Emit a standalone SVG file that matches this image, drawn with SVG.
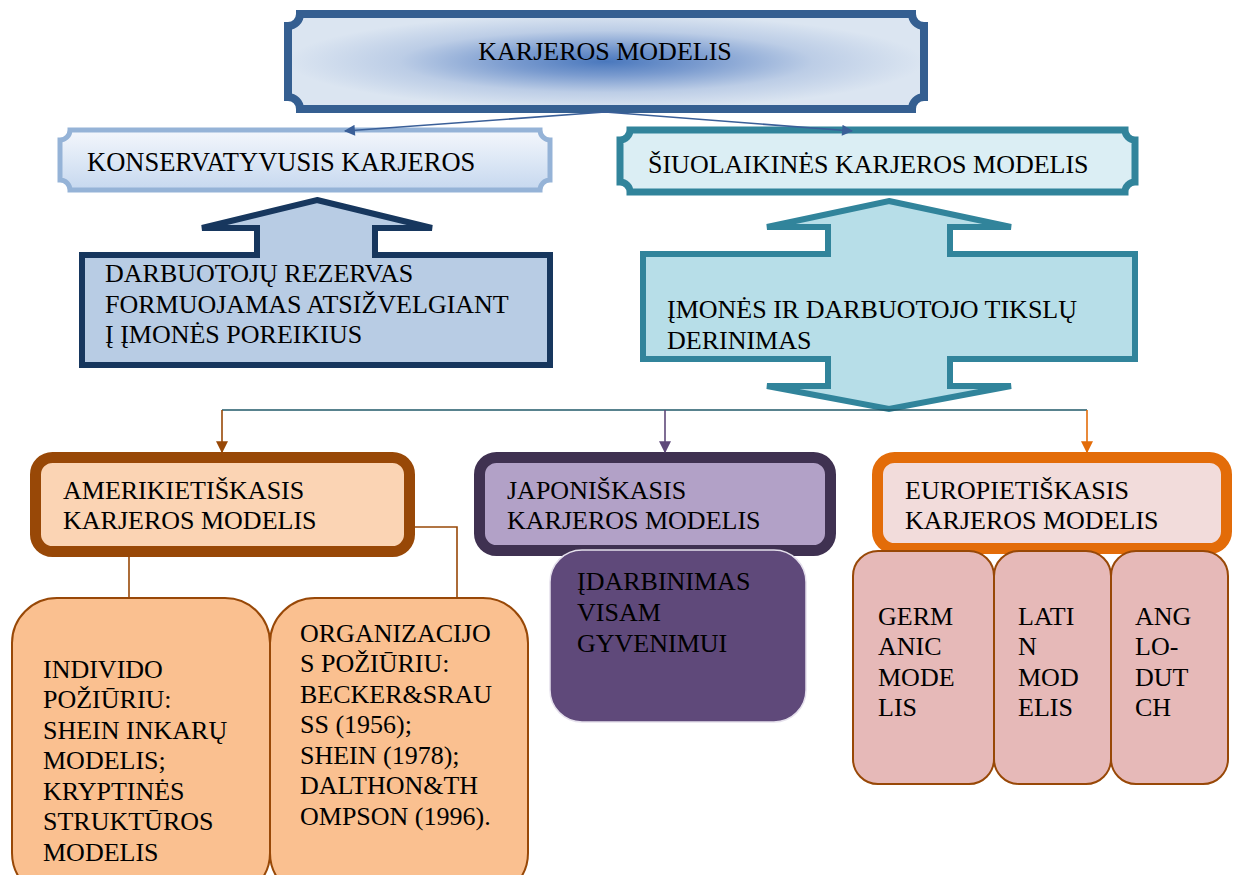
<svg xmlns="http://www.w3.org/2000/svg" width="1235" height="875" viewBox="0 0 1235 875">
  <style>
    text { font-family: 'Liberation Serif', 'Times New Roman', serif; font-size: 26px; fill: #000; }
    .conn { fill: none; stroke-width: 1.6; }
  </style>
  <defs>
    <radialGradient id="titleFill" cx="0.5" cy="0.5" r="0.5">
      <stop offset="0" stop-color="#4a78bd"/>
      <stop offset="0.3" stop-color="#7a9bcf"/>
      <stop offset="0.65" stop-color="#bccde6"/>
      <stop offset="1" stop-color="#dbe5f1"/>
    </radialGradient>
    <linearGradient id="consFill" x1="0" y1="0" x2="0" y2="1">
      <stop offset="0" stop-color="#f4f7fc"/>
      <stop offset="1" stop-color="#c6d8ef"/>
    </linearGradient>
    <marker id="arrBlue" viewBox="0 0 10 10" refX="9" refY="5" markerWidth="14" markerHeight="11" markerUnits="userSpaceOnUse" orient="auto">
      <path d="M0,0 L10,5 L0,10 Z" fill="#3a5f98"/>
    </marker>
    <marker id="arrBrown" viewBox="0 0 10 10" refX="9" refY="5" markerWidth="12" markerHeight="12" markerUnits="userSpaceOnUse" orient="auto">
      <path d="M0,0 L10,5 L0,10 Z" fill="#984807"/>
    </marker>
    <marker id="arrPurple" viewBox="0 0 10 10" refX="9" refY="5" markerWidth="12" markerHeight="12" markerUnits="userSpaceOnUse" orient="auto">
      <path d="M0,0 L10,5 L0,10 Z" fill="#5f497a"/>
    </marker>
    <marker id="arrOrange" viewBox="0 0 10 10" refX="9" refY="5" markerWidth="12" markerHeight="12" markerUnits="userSpaceOnUse" orient="auto">
      <path d="M0,0 L10,5 L0,10 Z" fill="#e36c09"/>
    </marker>
  </defs>

  <!-- title plaque -->
  <g id="title">
    <path d="M300,14 H912 A12,12 0 0 0 924,26 V97 A12,12 0 0 0 912,109 H300 A12,12 0 0 0 288,97 V26 A12,12 0 0 0 300,14 Z" fill="url(#titleFill)" stroke="#355f91" stroke-width="8"/>
    <text x="605" y="60" text-anchor="middle">KARJEROS MODELIS</text>
  </g>

  <!-- conservative career model -->
  <g id="conservative">
    <path d="M70,130 H540 A10,10 0 0 0 550,140 V180 A10,10 0 0 0 540,190 H70 A10,10 0 0 0 60,180 V140 A10,10 0 0 0 70,130 Z" fill="url(#consFill)" stroke="#95b3d7" stroke-width="5"/>
    <text x="87" y="171" style="font-size:26.5px">KONSERVATYVUSIS KARJEROS</text>
  </g>

  <!-- contemporary career model -->
  <g id="contemporary">
    <path d="M630,130 H1125 A10,10 0 0 0 1135,140 V182 A10,10 0 0 0 1125,192 H630 A10,10 0 0 0 620,182 V140 A10,10 0 0 0 630,130 Z" fill="#dbeef4" stroke="#31849b" stroke-width="7"/>
    <text x="648" y="173">ŠIUOLAIKINĖS KARJEROS MODELIS</text>
  </g>

  <!-- up arrow: employee reserve -->
  <g id="reserve">
    <path d="M317,200 L432,228 L375,228 L375,255 L550,255 L550,365 L82,365 L82,255 L257,255 L257,228 L202,228 Z" fill="#b8cce4" stroke="#17375e" stroke-width="6"/>
    <text x="105" y="282">DARBUOTOJŲ REZERVAS</text>
    <text x="105" y="313">FORMUOJAMAS ATSIŽVELGIANT</text>
    <text x="105" y="343">Į ĮMONĖS POREIKIUS</text>
  </g>

  <!-- double arrow: goal alignment -->
  <g id="alignment">
    <path d="M889,201 L1011,227 L950,227 L950,254 L1135,254 L1135,359 L950,359 L950,386 L1011,386 L889,409 L767,386 L828,386 L828,359 L643,359 L643,254 L828,254 L828,227 L767,227 Z" fill="#b7dee8" stroke="#31849b" stroke-width="6"/>
    <text x="667" y="318">ĮMONĖS IR DARBUOTOJO TIKSLŲ</text>
    <text x="667" y="349">DERINIMAS</text>
  </g>

  <!-- American model -->
  <g id="american">
    <rect x="35.5" y="457.5" width="374" height="94" rx="17" fill="#fbd4b4" stroke="#984807" stroke-width="11"/>
    <text x="63" y="499">AMERIKIETIŠKASIS</text>
    <text x="63" y="529">KARJEROS MODELIS</text>
  </g>

  <!-- Japanese model -->
  <g id="japanese">
    <rect x="479.5" y="457.5" width="351" height="93" rx="17" fill="#b2a1c7" stroke="#3f3151" stroke-width="11"/>
    <text x="507" y="499">JAPONIŠKASIS</text>
    <text x="507" y="529">KARJEROS MODELIS</text>
  </g>

  <!-- European model -->
  <g id="european">
    <rect x="877.5" y="457.5" width="349" height="91" rx="17" fill="#f2dcdb" stroke="#e36c09" stroke-width="11"/>
    <text x="905" y="499">EUROPIETIŠKASIS</text>
    <text x="905" y="529">KARJEROS MODELIS</text>
  </g>

  <!-- lifetime employment -->
  <g id="lifetime">
    <rect x="550" y="550" width="256" height="172" rx="32" fill="#5f497a" stroke="#e5e0ec" stroke-width="1.5"/>
    <text x="577" y="590">ĮDARBINIMAS</text>
    <text x="577" y="621">VISAM</text>
    <text x="577" y="652">GYVENIMUI</text>
  </g>

  <!-- individual view -->
  <g id="individual">
    <rect x="12" y="598" width="258" height="300" rx="45" fill="#fac090" stroke="#984807" stroke-width="2"/>
    <text x="43" y="678">INDIVIDO</text>
    <text x="43" y="708">POŽIŪRIU:</text>
    <text x="43" y="739">SHEIN INKARŲ</text>
    <text x="43" y="769">MODELIS;</text>
    <text x="43" y="800">KRYPTINĖS</text>
    <text x="43" y="830">STRUKTŪROS</text>
    <text x="43" y="861">MODELIS</text>
  </g>

  <!-- organisational view -->
  <g id="organisational">
    <rect x="270" y="598" width="258" height="300" rx="45" fill="#fac090" stroke="#984807" stroke-width="2"/>
    <text x="300" y="642">ORGANIZACIJO</text>
    <text x="300" y="672">S POŽIŪRIU:</text>
    <text x="300" y="703">BECKER&amp;SRAU</text>
    <text x="300" y="733">SS (1956);</text>
    <text x="300" y="764">SHEIN (1978);</text>
    <text x="300" y="794">DALTHON&amp;TH</text>
    <text x="300" y="825">OMPSON (1996).</text>
  </g>

  <!-- European sub-models -->
  <g id="germanic">
    <rect x="853" y="551" width="141" height="233" rx="25" fill="#e6b9b8" stroke="#984807" stroke-width="2"/>
    <text x="878" y="625">GERM</text>
    <text x="878" y="655">ANIC</text>
    <text x="878" y="686">MODE</text>
    <text x="878" y="716">LIS</text>
  </g>
  <g id="latin">
    <rect x="994" y="551" width="117" height="233" rx="25" fill="#e6b9b8" stroke="#984807" stroke-width="2"/>
    <text x="1018" y="625">LATI</text>
    <text x="1018" y="655">N</text>
    <text x="1018" y="686">MOD</text>
    <text x="1018" y="716">ELIS</text>
  </g>
  <g id="anglo">
    <rect x="1111" y="551" width="117" height="233" rx="25" fill="#e6b9b8" stroke="#984807" stroke-width="2"/>
    <text x="1135" y="625">ANG</text>
    <text x="1135" y="655">LO-</text>
    <text x="1135" y="686">DUT</text>
    <text x="1135" y="716">CH</text>
  </g>

  <!-- connectors, drawn last so arrowheads sit on the box borders -->
  <g id="connectors">
    <path class="conn" d="M605,112 L345,131" stroke="#3a5f98" marker-end="url(#arrBlue)"/>
    <path class="conn" d="M605,112 L852,131" stroke="#3a5f98" marker-end="url(#arrBlue)"/>
    <path class="conn" d="M222,410 H1087" stroke="#215968" stroke-width="2"/>
    <path class="conn" d="M222,410 V452" stroke="#984807" marker-end="url(#arrBrown)"/>
    <path class="conn" d="M665,410 V452" stroke="#5f497a" marker-end="url(#arrPurple)"/>
    <path class="conn" d="M1087,410 V452" stroke="#e36c09" marker-end="url(#arrOrange)"/>
    <path class="conn" d="M129,556 V598" stroke="#984807"/>
    <path class="conn" d="M414,527 H457 V598" stroke="#984807"/>
  </g>
</svg>
